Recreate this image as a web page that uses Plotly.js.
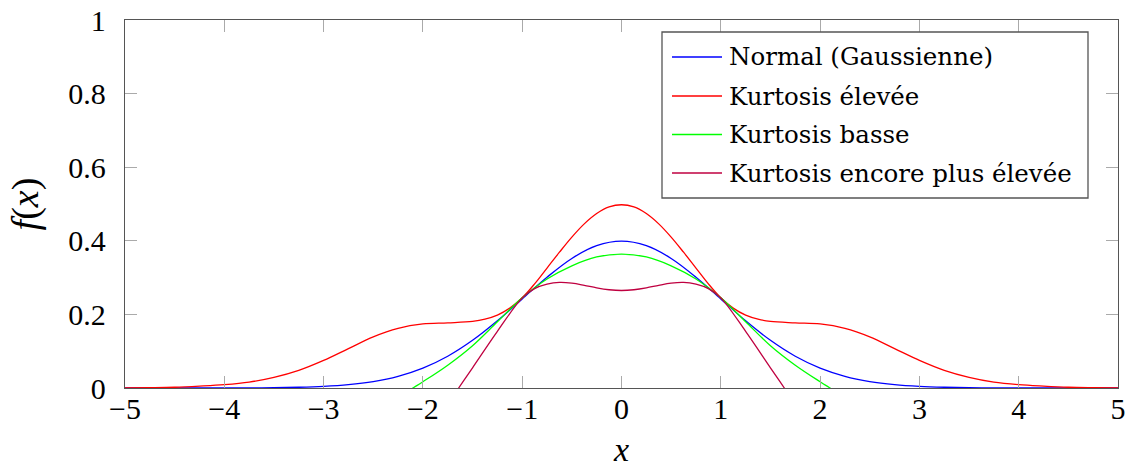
<!DOCTYPE html>
<html>
<head>
<meta charset="utf-8">
<script src="https://cdn.plot.ly/plotly-3.0.1.min.js"></script>
<style>html,body{margin:0;padding:0;background:#fff;}#chart{width:1130px;height:468px;}</style>
</head>
<body>
<div id="chart"></div>
<script>
// Normal (Gaussienne)
const xNormal = [-5,-4.75,-4.5,-4.25,-4,-3.75,-3.5,-3.25,-3,-2.75,-2.5,-2.25,-2,-1.75,-1.5,-1.25,-1,-0.75,-0.5,-0.25,0,
  0.25,0.5,0.75,1,1.25,1.5,1.75,2,2.25,2.5,2.75,3,3.25,3.5,3.75,4,4.25,4.5,4.75,5];
const normalY = [0,0,0,0,0.0001,0.0004,0.0009,0.002,0.0044,0.0091,0.0175,0.0317,0.054,0.0863,0.1295,0.1826,0.242,0.3011,0.3521,0.3867,0.3989,
  0.3867,0.3521,0.3011,0.242,0.1826,0.1295,0.0863,0.054,0.0317,0.0175,0.0091,0.0044,0.002,0.0009,0.0004,0.0001,0,0,0,0];
// Kurtosis élevée
const xHigh = [-5,-4.75,-4.5,-4.25,-4,-3.75,-3.5,-3.25,-3,-2.75,-2.5,-2.25,-2,-1.75,-1.5,-1.375,-1.25,-1.125,-1,-0.875,-0.75,-0.625,-0.5,-0.375,-0.25,-0.125,0,
  0.125,0.25,0.375,0.5,0.625,0.75,0.875,1,1.125,1.25,1.375,1.5,1.75,2,2.25,2.5,2.75,3,3.25,3.5,3.75,4,4.25,4.5,4.75,5];
const highY = [0.0005,0.001,0.002,0.005,0.009,0.016,0.029,0.048,0.075,0.107,0.139,0.162,0.174,0.177,0.181,0.187,0.198,0.217,0.245,0.283,0.326,0.369,0.410,0.446,0.474,0.492,0.498,
  0.492,0.474,0.446,0.410,0.369,0.326,0.283,0.245,0.217,0.198,0.187,0.181,0.177,0.174,0.162,0.139,0.107,0.075,0.048,0.029,0.016,0.009,0.005,0.002,0.001,0.0005];
// Kurtosis basse
const xLow = [-2.3,-2.1,-2,-1.75,-1.5,-1.25,-1,-0.75,-0.5,-0.25,0,0.25,0.5,0.75,1,1.25,1.5,1.75,2,2.1,2.3];
const lowY = [-0.034,0,0.017,0.062,0.115,0.180,0.245,0.296,0.332,0.356,0.364,0.356,0.332,0.296,0.245,0.180,0.115,0.062,0.017,0,-0.034];
// Kurtosis encore plus élevée
const xHigher = [-1.8,-1.64,-1.5,-1.25,-1,-0.875,-0.75,-0.625,-0.5,-0.375,-0.25,-0.125,0,0.125,0.25,0.375,0.5,0.625,0.75,0.875,1,1.25,1.5,1.64,1.8];
const higherY = [-0.063,0,0.055,0.154,0.245,0.270,0.282,0.287,0.285,0.279,0.272,0.267,0.265,0.267,0.272,0.279,0.285,0.287,0.282,0.270,0.245,0.154,0.055,0,-0.063];

const names = ['Normal (Gaussienne)','Kurtosis élevée','Kurtosis basse','Kurtosis encore plus élevée'];
const colors = ['#0000ff','#ff0000','#00ff00','#bf0040'];
const xs = [xNormal, xHigh, xLow, xHigher];
const ys = [normalY, highY, lowY, higherY];

const traces = names.map((n,i)=>({
  type:'scatter', mode:'lines', name:n, x:xs[i], y:ys[i],
  line:{color:colors[i], width:1.3, shape:'spline', smoothing:1},
  hoverinfo:'skip', showlegend:false
}));

// plot-area geometry (pixels) used to place the hand-drawn legend box
const W = 1130, H = 468, M = {l:125, r:12, t:20, b:80};
const pw = W - M.l - M.r, ph = H - M.t - M.b;
const px = v => (v - M.l) / pw;
const py = v => (H - M.b - v) / ph;
const box = {x0:662, x1:1088, y0:32, y1:198};
const rowY = [57, 96, 134.5, 173];
const shapes = [{type:'rect', xref:'paper', yref:'paper', x0:px(box.x0), x1:px(box.x1), y0:py(box.y1), y1:py(box.y0),
  line:{color:'#555', width:1.3}, fillcolor:'#fff', layer:'above'}];
const annotations = [];
names.forEach((n,i)=>{
  shapes.push({type:'line', xref:'paper', yref:'paper', x0:px(672), x1:px(722), y0:py(rowY[i]), y1:py(rowY[i]),
    line:{color:colors[i], width:1.3}, layer:'above'});
  annotations.push({xref:'paper', yref:'paper', x:px(727), y:py(rowY[i]), xanchor:'left', yanchor:'middle',
    text:n, showarrow:false, font:{family:'"DejaVu Serif", serif', size:24.5, color:'#000'}});
});

const tickFont = {family:'"Liberation Serif", "DejaVu Serif", serif', size:30, color:'#000'};
const layout = {
  width:W, height:H,
  margin:M,
  paper_bgcolor:'#fff', plot_bgcolor:'#fff',
  showlegend:false,
  shapes:shapes, annotations:annotations,
  xaxis:{range:[-5,5], tickvals:[-5,-4,-3,-2,-1,0,1,2,3,4,5], showgrid:false, zeroline:false,
    showline:true, linecolor:'#555', linewidth:1.3, mirror:'ticks',
    ticks:'inside', ticklen:12, tickcolor:'#aaa', tickwidth:1,
    tickfont:tickFont, ticklabelstandoff:-6,
    title:{text:'<i>x</i>', font:{family:'"Liberation Serif", serif', size:34, color:'#000'}, standoff:14}},
  yaxis:{range:[0,1], tickvals:[0,0.2,0.4,0.6,0.8,1], ticktext:['0','0.2','0.4','0.6','0.8','1'], showgrid:false, zeroline:false,
    showline:true, linecolor:'#555', linewidth:1.3, mirror:'ticks',
    ticks:'inside', ticklen:12, tickcolor:'#aaa', tickwidth:1,
    tickfont:tickFont, ticklabelstandoff:12,
    title:{text:'<i>f</i>(<i>x</i>)', font:{family:'"Liberation Serif", serif', size:38, color:'#000'}, standoff:18}}
};
Plotly.newPlot('chart', traces, layout, {displayModeBar:false, staticPlot:true});
</script>
</body>
</html>
